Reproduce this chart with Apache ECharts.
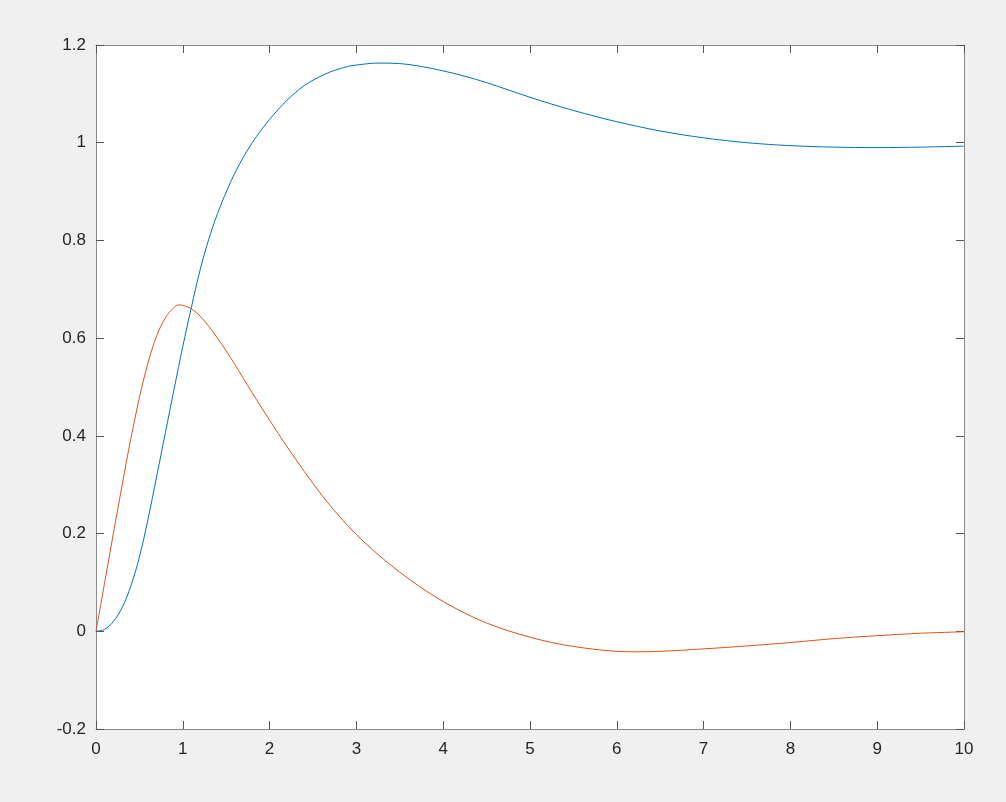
<!DOCTYPE html>
<html>
<head>
<meta charset="utf-8">
<script src="https://cdn.jsdelivr.net/npm/echarts@6/dist/echarts.min.js"></script>
<style>
html,body{margin:0;padding:0;background:#f0f0f0;}
#chart{width:1006px;height:802px;}
</style>
</head>
<body>
<div id="chart"></div>
<script>
// Step response (blue)
const stepT = [0,0.1,0.2,0.3,0.4,0.5,0.6,0.7,0.8,0.9,1.0,1.1,1.2,1.3,1.4,1.5,1.6,1.7,1.8,1.9,2.0,2.1,2.2,2.3,2.4,2.5,2.6,2.7,2.8,2.9,3.0,3.25,3.5,3.75,4.0,4.25,4.5,4.75,5.0,5.25,5.5,5.75,6.0,6.5,7.0,7.5,8.0,8.5,9.0,9.5,10];
const stepV = [0,0.004,0.020,0.048,0.092,0.152,0.230,0.318,0.407,0.496,0.583,0.664,0.740,0.803,0.855,0.899,0.938,0.971,1.0,1.025,1.048,1.068,1.087,1.103,1.117,1.128,1.137,1.145,1.151,1.156,1.159,1.163,1.162,1.156,1.147,1.136,1.123,1.108,1.093,1.079,1.066,1.054,1.043,1.024,1.010,1.0,0.994,0.991,0.990,0.991,0.993];
// Impulse-like response (red)
const impT = [0,0.1,0.2,0.3,0.4,0.5,0.6,0.7,0.8,0.9,0.95,1.0,1.1,1.2,1.3,1.4,1.5,1.6,1.7,1.8,1.9,2.0,2.2,2.4,2.6,2.8,3.0,3.25,3.5,3.75,4.0,4.25,4.5,4.75,5.0,5.25,5.5,5.75,6.0,6.25,6.5,7.0,7.5,8.0,8.5,9.0,9.5,10];
const impV = [0,0.1,0.2,0.298,0.393,0.478,0.55,0.605,0.642,0.663,0.668,0.667,0.66,0.645,0.624,0.60,0.574,0.546,0.517,0.488,0.46,0.432,0.378,0.327,0.279,0.236,0.198,0.157,0.121,0.089,0.061,0.037,0.017,0.001,-0.012,-0.023,-0.031,-0.037,-0.041,-0.042,-0.041,-0.036,-0.030,-0.023,-0.015,-0.009,-0.004,-0.001];

const xMin = 0, xMax = 10, xInterval = 1;
const yMin = -0.2, yMax = 1.2, yInterval = 0.2;

const zip = (a, b) => a.map((v, i) => [v, b[i]]);

const chart = echarts.init(document.getElementById('chart'));
const labelStyle = {color:'#262626', fontSize:17, fontFamily:'Liberation Sans, Arial, sans-serif'};
const lineStyleAxis = {show:true, onZero:false, lineStyle:{color:'#8a8a8a', width:1}};
const tickStyle = {show:true, inside:true, length:8, lineStyle:{color:'#555', width:1}};
chart.setOption({
  backgroundColor:'#f0f0f0',
  animation:false,
  grid:{left:96, top:45, right:42, bottom:73, show:true, backgroundColor:'#ffffff', borderWidth:0},
  xAxis:[
    {type:'value', min:xMin, max:xMax, interval:xInterval, position:'bottom',
     axisLine:lineStyleAxis, axisTick:tickStyle, splitLine:{show:false},
     axisLabel:Object.assign({margin:12}, labelStyle)},
    {type:'value', min:xMin, max:xMax, interval:xInterval, position:'top',
     axisLine:lineStyleAxis, axisTick:tickStyle, splitLine:{show:false},
     axisLabel:{show:false}}
  ],
  yAxis:[
    {type:'value', min:yMin, max:yMax, interval:yInterval, position:'left',
     axisLine:lineStyleAxis, axisTick:tickStyle, splitLine:{show:false},
     axisLabel:Object.assign({margin:10}, labelStyle)},
    {type:'value', min:yMin, max:yMax, interval:yInterval, position:'right',
     axisLine:lineStyleAxis, axisTick:tickStyle, splitLine:{show:false},
     axisLabel:{show:false}}
  ],
  series:[
    {type:'line', data:zip(stepT, stepV), smooth:0.35, symbol:'none',
     lineStyle:{color:'#0072BD', width:1}, xAxisIndex:0, yAxisIndex:0},
    {type:'line', data:zip(impT, impV), smooth:0.35, symbol:'none',
     lineStyle:{color:'#D95319', width:1}, xAxisIndex:0, yAxisIndex:0}
  ]
});
</script>
</body>
</html>
